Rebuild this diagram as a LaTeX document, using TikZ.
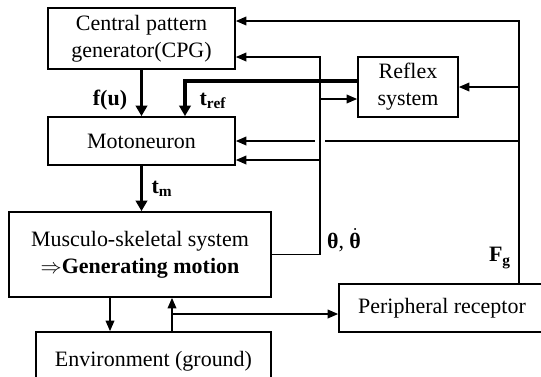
\documentclass[tikz,border=0pt]{standalone}
\usepackage{fontspec}
\setmainfont{Liberation Serif}
\usepackage{amsmath}
\usetikzlibrary{arrows.meta}
\begin{document}
\begin{tikzpicture}[x=0.02cm, y=-0.02cm,
    every node/.style={font=\fontsize{12.5}{15.3}\selectfont},
    box/.style={draw, line width=1pt, align=center, inner sep=0pt},
    sig/.style={line width=0.7pt, -{Triangle[length=6pt, width=5pt]}},
    bigsig/.style={line width=2pt, -{Triangle[length=6pt, width=6.5pt]}}]
  \clip (0,0) rectangle (541,376);
  % blocks
  \node[box, minimum width=3.74cm, minimum height=1.22cm] (cpg) at (141.5,38.5) {Central pattern\\generator(CPG)};
  \node[box, minimum width=3.74cm, minimum height=0.96cm] (moto) at (141.5,141) {Motoneuron};
  \node[box, minimum width=5.24cm, minimum height=1.7cm] (musc) at (140,254.5) {Musculo-skeletal system\\$\Rightarrow$\textbf{Generating motion}};
  \node[box, minimum width=4.7cm, minimum height=1.16cm] (env) at (153.5,361) {Environment (ground)};
  \node[box, minimum width=4.12cm, minimum height=0.96cm] (periph) at (442,308) {Peripheral receptor};
  \node[box, minimum width=2cm, minimum height=1.2cm] (reflex) at (408,87) {Reflex\\system};
  \coordinate (outer) at (519,0);
  \coordinate (inner) at (320,0);
  % ground force feedback
  \draw[sig] (outer |- periph.north) |- (cpg.east |- 0,21);
  \draw[sig] (outer |- reflex.east) -- (reflex.east);
  \draw[sig] (outer |- moto.east) -- (moto.east);
  \draw[white, line width=6pt] (inner |- 0,132) -- (inner |- 0,150);
  % joint angle feedback
  \draw[sig] (musc.east) -| (inner |- 0,57) -- (cpg.east |- 0,57);
  \draw[sig] (inner |- 0,99) -- (reflex.west |- 0,99);
  \draw[sig] (inner |- 0,160) -- (moto.east |- 0,160);
  % torques
  \draw[bigsig] (reflex.west |- 0,81) -| (185,0 |- moto.north);
  \draw[bigsig] (cpg.south) -- (moto.north);
  \draw[bigsig] (moto.south) -- (moto.south |- musc.north);
  % body and ground
  \draw[sig] (110,0 |- musc.south) -- (110,0 |- env.north);
  \draw[sig] (172,0 |- env.north) -- (172,0 |- musc.south);
  \draw[sig] (172,314) -- (periph.west |- 0,314);
  % labels
  \node (fu) at (110,100) {\textbf{f(u)}};
  \node (tref) at (213,101) {\textbf{t\textsubscript{ref}}};
  \node (tm) at (162,189) {\textbf{t\textsubscript{m}}};
  \node (ang) at (344,240) {\textbf{θ}, $\dot{\text{\textbf{θ}}}$};
  \node (fg) at (500,258) {\textbf{F\textsubscript{g}}};
\end{tikzpicture}
\end{document}
